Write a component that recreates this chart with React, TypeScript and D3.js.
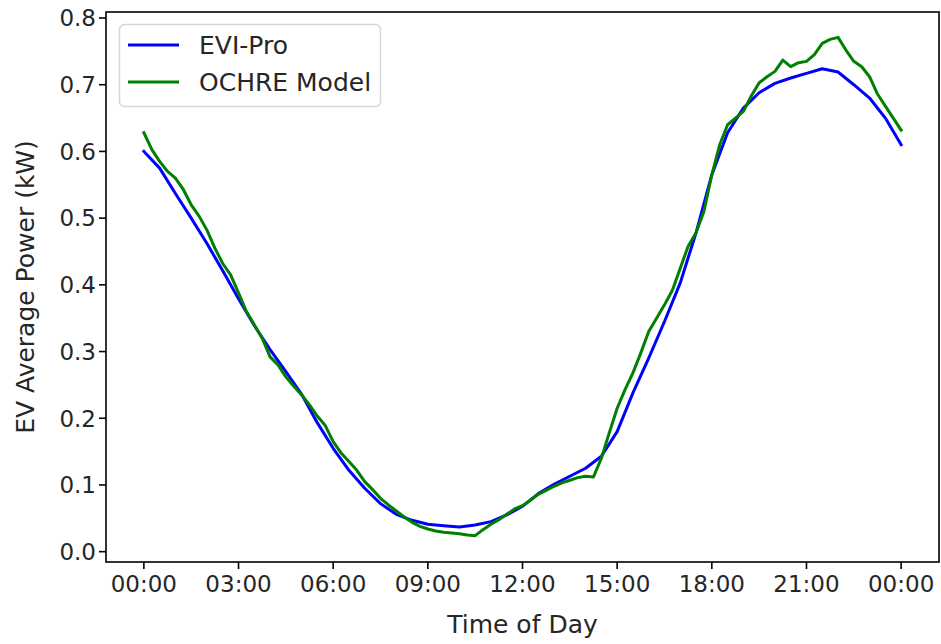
import React from "react";
import * as d3 from "d3";

// Hours of day for each series
const eviHours: number[] = d3.range(0, 24.01, 0.5);
const eviPro: number[] = [
  0.600, 0.575, 0.537, 0.500, 0.462, 0.421, 0.379, 0.339, 0.303, 0.270,
  0.236, 0.193, 0.155, 0.122, 0.095, 0.072, 0.056, 0.047, 0.041, 0.039,
  0.037, 0.040, 0.045, 0.055, 0.068, 0.087, 0.101, 0.113, 0.125, 0.143,
  0.180, 0.238, 0.290, 0.345, 0.403, 0.478, 0.565, 0.628, 0.665, 0.688,
  0.702, 0.710, 0.717, 0.724, 0.719, 0.700, 0.680, 0.650, 0.610,
];

const ochreHours: number[] = d3.range(0, 24.01, 0.25);
const ochre: number[] = [
  0.628, 0.603, 0.585, 0.570, 0.560, 0.543, 0.520, 0.503, 0.482, 0.455,
  0.432, 0.415, 0.388, 0.360, 0.340, 0.320, 0.292, 0.280, 0.262, 0.248,
  0.235, 0.220, 0.203, 0.189, 0.165, 0.148, 0.135, 0.122, 0.105, 0.093,
  0.080, 0.070, 0.061, 0.052, 0.044, 0.038, 0.034, 0.031, 0.029, 0.028,
  0.027, 0.025, 0.024, 0.033, 0.041, 0.048, 0.056, 0.064, 0.069, 0.077,
  0.086, 0.092, 0.098, 0.103, 0.107, 0.111, 0.113, 0.112, 0.140, 0.178,
  0.215, 0.243, 0.268, 0.298, 0.330, 0.350, 0.370, 0.392, 0.425, 0.458,
  0.478, 0.510, 0.565, 0.610, 0.640, 0.650, 0.660, 0.683, 0.703, 0.712,
  0.720, 0.737, 0.727, 0.733, 0.735, 0.745, 0.762, 0.768, 0.771, 0.752,
  0.735, 0.727, 0.712, 0.686, 0.668, 0.650, 0.632,
];

const xTicks: number[] = [0, 3, 6, 9, 12, 15, 18, 21, 24];
const xTickLabels: string[] = ["00:00", "03:00", "06:00", "09:00", "12:00", "15:00", "18:00", "21:00", "00:00"];
const yTicks: number[] = [0, 0.1, 0.2, 0.3, 0.4, 0.5, 0.6, 0.7, 0.8];
const seriesNames: string[] = ["EVI-Pro", "OCHRE Model"];
const seriesColors: string[] = ["#0000ff", "#008000"];

const W = 941, H = 644;
const L = 106, R = 939, T = 12, B = 562;
const FONT = "'DejaVu Sans', sans-serif";
const FS = 23;
const FS_LABEL = 25;

export default function App() {
  const x = d3.scaleLinear().domain([-1.2, 25.2]).range([L, R]);
  const y = d3.scaleLinear().domain([-0.0155, 0.809]).range([B, T]);
  const line = d3.line<[number, number]>().x(d => x(d[0])).y(d => y(d[1]));
  const s1: [number, number][] = eviHours.map((h, i) => [h, eviPro[i]]);
  const s2: [number, number][] = ochreHours.map((h, i) => [h, ochre[i]]);

  return (
    <svg width={W} height={H} style={{ position: "absolute", left: 0, top: 0, background: "#fff" }} fontFamily={FONT}>
      <rect x={0} y={0} width={W} height={H} fill="#fff" />
      <defs>
        <clipPath id="plot"><rect x={L} y={T} width={R - L} height={B - T} /></clipPath>
      </defs>
      <g clipPath="url(#plot)">
        <path d={line(s1) || ""} fill="none" stroke={seriesColors[0]} strokeWidth={3} strokeLinejoin="round" strokeLinecap="square" />
        <path d={line(s2) || ""} fill="none" stroke={seriesColors[1]} strokeWidth={3} strokeLinejoin="round" strokeLinecap="square" />
      </g>
      <rect x={L} y={T} width={R - L} height={B - T} fill="none" stroke="#000" strokeWidth={1.6} />
      {xTicks.map((t, i) => (
        <g key={"x" + i}>
          <line x1={x(t)} x2={x(t)} y1={B} y2={B + 7} stroke="#000" strokeWidth={1.6} />
          <text x={x(t)} y={B + 30} textAnchor="middle" fontSize={FS} fill="#262626">{xTickLabels[i]}</text>
        </g>
      ))}
      {yTicks.map((t, i) => (
        <g key={"y" + i}>
          <line x1={L - 7} x2={L} y1={y(t)} y2={y(t)} stroke="#000" strokeWidth={1.6} />
          <text x={L - 10} y={y(t)} dy="0.36em" textAnchor="end" fontSize={FS} fill="#262626">{t.toFixed(1)}</text>
        </g>
      ))}
      <text x={(L + R) / 2} y={633} textAnchor="middle" fontSize={FS_LABEL} fill="#262626">Time of Day</text>
      <text transform={`translate(34,${(T + B) / 2}) rotate(-90)`} textAnchor="middle" fontSize={FS_LABEL} fill="#262626">EV Average Power (kW)</text>
      <g>
        <rect x={119.5} y={24.5} width={261} height={82} rx={5} fill="#fff" fillOpacity={0.8} stroke="#d6d6d6" strokeWidth={1.5} />
        {seriesNames.map((n, i) => (
          <g key={n}>
            <line x1={128} x2={179} y1={45 + i * 37} y2={45 + i * 37} stroke={seriesColors[i]} strokeWidth={3} />
            <text x={199} y={45 + i * 37} dy="0.36em" fontSize={FS_LABEL} fill="#262626">{n}</text>
          </g>
        ))}
      </g>
    </svg>
  );
}
